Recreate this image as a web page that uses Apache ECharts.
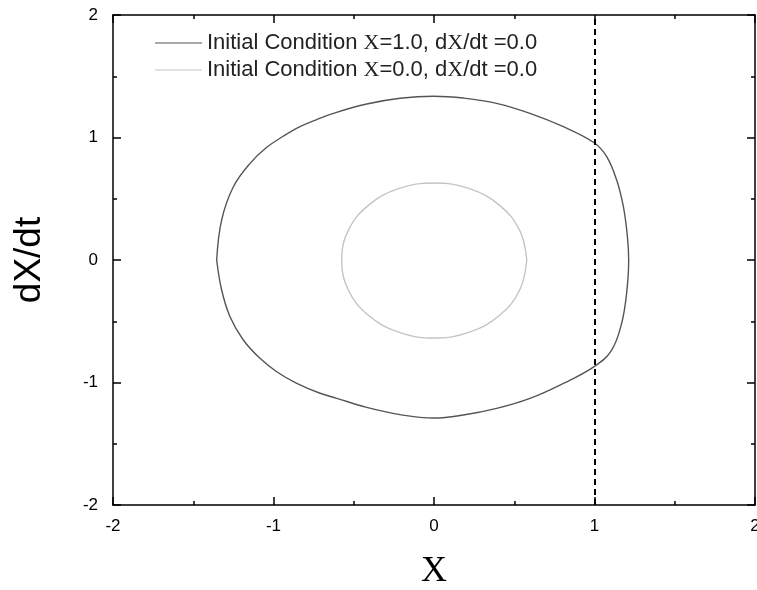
<!DOCTYPE html>
<html>
<head>
<meta charset="utf-8">
<script src="https://cdn.jsdelivr.net/npm/echarts@6/dist/echarts.min.js"></script>
<style>
  html, body { margin: 0; padding: 0; background: #fff; }
  #chart { width: 757px; height: 590px; }
</style>
</head>
<body>
<div id="chart"></div>
<script>
// phase portrait, points as [X, dX/dt]
var outerName = 'Initial Condition X=1.0, dX/dt =0.0';
var innerName = 'Initial Condition X=0.0, dX/dt =0.0';

var outerCurve = [
  [-1.354, 0], [-1.323, 0.327], [-1.250, 0.598], [-1.146, 0.789], [-1.042, 0.920],
  [-0.939, 1.010], [-0.835, 1.088], [-0.731, 1.146], [-0.627, 1.197], [-0.419, 1.273],
  [-0.212, 1.320], [0, 1.337], [0.183, 1.322], [0.390, 1.279], [0.598, 1.197],
  [0.806, 1.088], [1.0, 0.955], [1.076, 0.843], [1.138, 0.653], [1.180, 0.435],
  [1.205, 0.19], [1.213, 0], [1.200, -0.272], [1.169, -0.517], [1.107, -0.735],
  [1.0, -0.868], [0.806, -1.007], [0.598, -1.129], [0.390, -1.211], [0.183, -1.265],
  [0, -1.290], [-0.212, -1.262], [-0.419, -1.203], [-0.606, -1.129], [-0.710, -1.088],
  [-0.855, -1.007], [-0.980, -0.912], [-1.084, -0.803], [-1.188, -0.653], [-1.271, -0.463],
  [-1.323, -0.245], [-1.354, 0]
];

var innerCurve = [
  [0.578, 0], [0.534, 0.242], [0.409, 0.446], [0.221, 0.582], [0, 0.628],
  [-0.221, 0.582], [-0.409, 0.446], [-0.534, 0.242], [-0.575, 0], [-0.534, -0.245],
  [-0.409, -0.451], [-0.221, -0.589], [0, -0.637], [0.221, -0.589], [0.409, -0.451],
  [0.534, -0.245], [0.578, 0]
];

var markX = 1;

var chart = echarts.init(document.getElementById('chart'));

function frameAxis(pos, showLabel) {
  return {
    type: 'value',
    position: pos,
    min: -2,
    max: 2,
    interval: 1,
    axisLine: { show: true, onZero: false, lineStyle: { color: '#000', width: 1.5 } },
    axisTick: { show: true, inside: true, length: 8, lineStyle: { color: '#000', width: 1.5 } },
    minorTick: { show: true, splitNumber: 2, length: 4, lineStyle: { color: '#000', width: 1.5 } },
    splitLine: { show: false },
    axisLabel: { show: showLabel, color: '#000', fontFamily: 'Arial, Liberation Sans', fontSize: 17 }
  };
}

var xBottom = frameAxis('bottom', true);
xBottom.axisLabel.margin = 13;
xBottom.axisLabel.showMaxLabel = true;
xBottom.name = 'X';
xBottom.nameLocation = 'middle';
xBottom.nameGap = 49;
xBottom.nameTextStyle = { fontFamily: 'Liberation Serif, Times New Roman', fontSize: 36, color: '#000' };

var yLeft = frameAxis('left', true);
yLeft.axisLabel.margin = 15;
yLeft.name = 'dX/dt';
yLeft.nameLocation = 'middle';
yLeft.nameRotate = 90;
yLeft.nameGap = 65;
yLeft.nameTextStyle = { fontFamily: 'Arial, Liberation Sans', fontSize: 37, color: '#000' };

var option = {
  animation: false,
  backgroundColor: '#fff',
  grid: { left: 113, right: 2, top: 15, bottom: 85, outerBoundsMode: 'none' },
  xAxis: [xBottom, frameAxis('top', false)],
  yAxis: [yLeft, frameAxis('right', false)],
  legend: {
    orient: 'vertical',
    left: 150,
    top: 27,
    itemWidth: 47,
    itemHeight: 22,
    itemGap: 5,
    icon: 'path://M0,10.5L47,10.5L47,11.5L0,11.5Z',
    data: [outerName, innerName],
    formatter: function (name) {
      return name.replace(/X/g, '{s|X}');
    },
    textStyle: {
      fontFamily: 'Arial, Liberation Sans',
      fontSize: 22,
      color: '#222',
      rich: {
        s: { fontFamily: 'Liberation Serif, Times New Roman', fontSize: 22, color: '#222' }
      }
    }
  },
  series: [
    {
      name: outerName,
      type: 'line',
      data: outerCurve,
      smooth: 0.4,
      showSymbol: false,
      color: '#555',
      lineStyle: { color: '#555', width: 1.4 },
      markLine: {
        silent: true,
        symbol: ['none', 'none'],
        label: { show: false },
        lineStyle: { color: '#000', type: [6, 4], width: 2 },
        data: [{ xAxis: markX }]
      }
    },
    {
      name: innerName,
      type: 'line',
      data: innerCurve,
      smooth: 0.4,
      showSymbol: false,
      color: '#c4c4c4',
      lineStyle: { color: '#c4c4c4', width: 1.4 }
    }
  ]
};

chart.setOption(option);
</script>
</body>
</html>
